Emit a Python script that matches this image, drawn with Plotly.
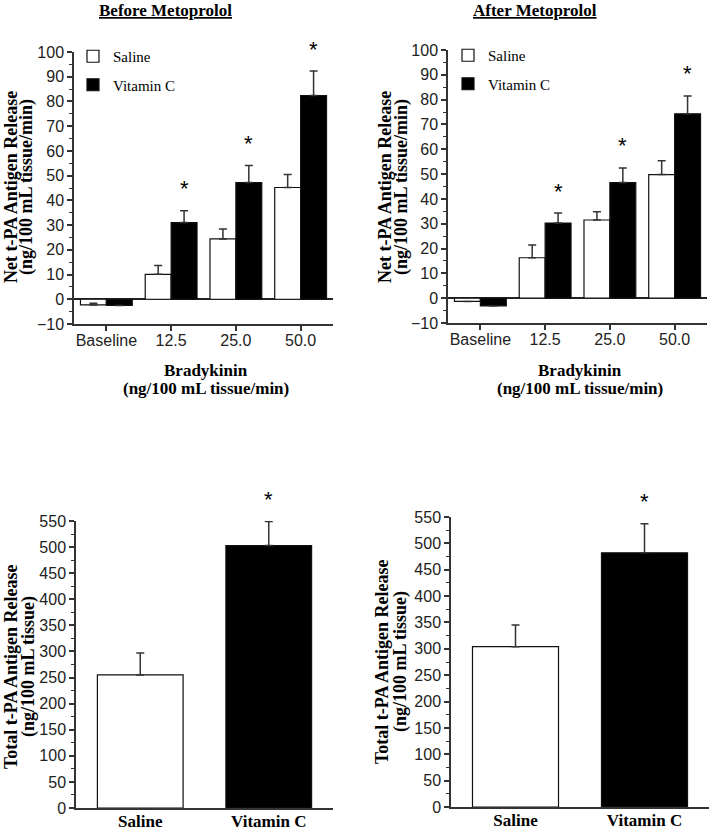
import plotly.graph_objects as go

# Net release per bradykinin dose (ng/100 mL tissue/min)
doses = ["Baseline", "12.5", "25.0", "50.0"]
before_saline = [-2.3, 10.1, 24.4, 45.2]
before_saline_err = [0.7, 3.6, 4.0, 5.3]
before_vitc = [-2.5, 31.0, 47.2, 82.4]
before_vitc_err = [0.0, 4.8, 6.9, 9.9]
after_saline = [-1.3, 16.3, 31.5, 49.8]
after_saline_err = [0.0, 5.1, 3.3, 5.6]
after_vitc = [-3.1, 30.3, 46.6, 74.3]
after_vitc_err = [0.0, 4.0, 5.9, 7.2]
dose_sig = [False, True, True, True]

# Total release (ng/100 mL tissue)
groups = ["Saline", "Vitamin C"]
before_total = [255, 503]
before_total_err = [42, 46]
after_total = [304, 482]
after_total_err = [41, 55]
total_sig = [False, True]

W, H = 709, 830
SANS = "Liberation Sans"
SERIF = "Liberation Serif"
AXC = "#333333"


def fx(p):
    return p / W


def fy(p):
    return 1 - p / H


def bar(x, y, err, color, name, xa, ya, legend=None, width=None):
    return go.Bar(
        x=x, y=y, name=name, xaxis=xa, yaxis=ya,
        marker=dict(color=color, line=dict(color="#111111", width=1.2)),
        error_y=dict(type="data", symmetric=False, array=err,
                     arrayminus=[0] * len(err), color=AXC, thickness=1.5, width=4),
        width=width, showlegend=legend is not None, legend=legend,
        legendgroup=name + (legend or ""),
    )


traces = [
    bar(doses, before_saline, before_saline_err, "white", "Saline", "x", "y", "legend"),
    bar(doses, before_vitc, before_vitc_err, "black", "Vitamin C", "x", "y", "legend"),
    bar(doses, after_saline, after_saline_err, "white", "Saline", "x2", "y2", "legend2"),
    bar(doses, after_vitc, after_vitc_err, "black", "Vitamin C", "x2", "y2", "legend2"),
    bar(groups, before_total, before_total_err, ["white", "black"], "Total", "x3", "y3", width=0.667),
    bar(groups, after_total, after_total_err, ["white", "black"], "Total", "x4", "y4", width=0.667),
]

fig = go.Figure(data=traces)


def xax(left, right, anchor, ticks, font, standoff):
    return dict(domain=[fx(left), fx(right)], anchor=anchor, type="category",
                range=[-0.5, len(ticks) - 0.5], showline=True, linecolor=AXC, linewidth=1.5,
                ticks="outside" if font["family"] == SANS else "", ticklen=5,
                tickcolor=AXC, tickwidth=1.5, tickfont=font, showgrid=False, zeroline=False,
                automargin=False, ticklabelstandoff=standoff)


def yax(top, bottom, anchor, rng, dtick, minor):
    return dict(domain=[fy(bottom), fy(top)], anchor=anchor, range=rng, dtick=dtick,
                showline=True, linecolor=AXC, linewidth=1.5, ticks="outside", ticklen=5,
                tickcolor=AXC, tickwidth=1.5, showgrid=False, automargin=False,
                tickfont=dict(family=SANS, size=16, color="#222222"),
                minor=dict(dtick=minor, ticks="outside", ticklen=3, tickcolor=AXC, tickwidth=1.2),
                zeroline=rng[0] < 0, zerolinecolor="#222222", zerolinewidth=1.5)


tickf = dict(family=SANS, size=16, color="#222222")
catf = dict(family=SERIF, size=17, color="black", weight="bold")
legf = dict(family=SERIF, size=15, color="black")

fig.update_layout(
    width=W, height=H, margin=dict(l=0, r=0, t=0, b=0, autoexpand=False),
    paper_bgcolor="white", plot_bgcolor="white",
    barmode="group", bargap=0.2, bargroupgap=0,
    xaxis=xax(74, 333, "y", doses, tickf, -4),
    yaxis=yax(52, 324, "x", [-10, 100], 10, 5),
    xaxis2=xax(448, 707, "y2", doses, tickf, -4),
    yaxis2=yax(50, 323, "x2", [-10, 100], 10, 5),
    xaxis3=xax(76, 333, "y3", groups, catf, -3),
    yaxis3=yax(521, 808, "x3", [0, 550], 50, 25),
    xaxis4=xax(451, 709, "y4", groups, catf, -3),
    yaxis4=yax(517, 807, "x4", [0, 550], 50, 25),
    legend=dict(x=fx(73), y=fy(40), xanchor="left", yanchor="top", font=legf,
                bgcolor="rgba(0,0,0,0)", traceorder="grouped", tracegroupgap=6),
    legend2=dict(x=fx(448), y=fy(39), xanchor="left", yanchor="top", font=legf,
                 bgcolor="rgba(0,0,0,0)", traceorder="grouped", tracegroupgap=6),
)

ann = []
bold = dict(family=SERIF, size=17, color="black", weight="bold")
bold_y = dict(family=SERIF, size=18, color="black", weight="bold")

# panel titles
for text, cx in [("Before Metoprolol", 165), ("After Metoprolol", 535)]:
    ann.append(dict(text="<u>" + text + "</u>", x=fx(cx), y=1, xref="paper", yref="paper",
                    xanchor="center", yanchor="top", yshift=1, showarrow=False, font=bold))

# y titles (two lines each)
for l1, l2, x1, x2, cy in [
    ("Net t-PA Antigen Release", "(ng/100 mL tissue/min)", 11, 27, 187),
    ("Net t-PA Antigen Release", "(ng/100 mL tissue/min)", 385, 402, 187),
    ("Total t-PA Antigen Release", "(ng/100 mL tissue)", 11, 28, 667),
    ("Total t-PA Antigen Release", "(ng/100 mL tissue)", 382, 400, 662),
]:
    for t, x in [(l1, x1), (l2, x2)]:
        ann.append(dict(text=t, x=fx(x), y=fy(cy), xref="paper", yref="paper",
                        textangle=-90, xanchor="center", yanchor="middle",
                        showarrow=False, font=bold_y))

# x titles for the dose panels
for cx in [206, 580]:
    ann.append(dict(text="Bradykinin", x=fx(cx), y=fy(370), xref="paper", yref="paper",
                    xanchor="center", yanchor="middle", showarrow=False, font=bold))
    ann.append(dict(text="(ng/100 mL tissue/min)", x=fx(cx), y=fy(388), xref="paper",
                    yref="paper", xanchor="center", yanchor="middle", showarrow=False, font=bold))


# significance stars above vitamin C bars (category index + pixel offset to the bar)
def stars(vals, errs, sig, xa, ya, offset):
    out = []
    for i, (v, e, s) in enumerate(zip(vals, errs, sig)):
        if s:
            out.append(dict(text="*", x=i, y=v + e, xref=xa, yref=ya, xshift=offset,
                            yshift=22, xanchor="center", yanchor="middle", showarrow=False,
                            font=dict(family=SANS, size=22, color="black")))
    return out


ann += stars(before_vitc, before_vitc_err, dose_sig, "x", "y", 13)
ann += stars(after_vitc, after_vitc_err, dose_sig, "x2", "y2", 13)
ann += stars(before_total, before_total_err, total_sig, "x3", "y3", 0)
ann += stars(after_total, after_total_err, total_sig, "x4", "y4", 0)

fig.update_layout(annotations=ann)
# the page's default body margin would push the figure 8px right and down
fig.write_html("out.html", config={"displayModeBar": False},
               post_script="document.body.style.margin = '0px';")
